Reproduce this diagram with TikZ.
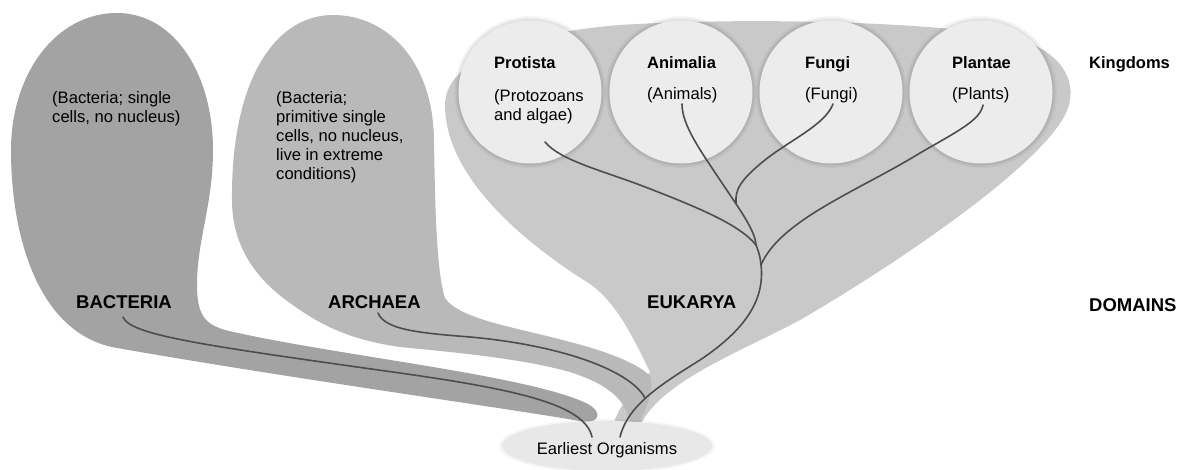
\documentclass[tikz,border=0pt]{standalone}
\usepackage{fontspec}
\setmainfont{Liberation Sans}
\usetikzlibrary{shapes.geometric}
\definecolor{bacgray}{HTML}{A3A3A3}
\definecolor{arcgray}{HTML}{B9B9B9}
\definecolor{eukgray}{HTML}{C9C9C9}
\definecolor{circgray}{HTML}{ECECEC}
\definecolor{ovalgray}{HTML}{E8E8E8}
\definecolor{linegray}{HTML}{4D4D4D}
\tikzset{
  branch/.style={draw=linegray, line width=1.6pt, line cap=round},
  kname/.style={font=\bfseries\fontsize{16.5}{19}\selectfont, anchor=base west, inner sep=0pt},
  desc/.style={font=\fontsize{16.6}{19}\selectfont, anchor=base west, inner sep=0pt, align=left},
  dname/.style={font=\bfseries\fontsize{18.5}{22}\selectfont, anchor=base west, inner sep=0pt},
  kcircle/.style={circle, fill=circgray, minimum size=143pt, inner sep=0pt},
}
\begin{document}
\begin{tikzpicture}[x=1pt,y=-1pt]
\useasboundingbox (0,0) rectangle (1182,469);
% Eukarya domain shape
\fill[eukgray] (650,372) .. controls (632,335) and (615,300) .. (587,282)
  .. controls (520,240) and (445,175) .. (445,105)
  .. controls (445,60) and (520,33) .. (620,25)
  .. controls (750,17) and (920,22) .. (1000,35)
  .. controls (1060,45) and (1078,80) .. (1068,108)
  .. controls (1050,160) and (900,262) .. (800,320)
  .. controls (740,352) and (665,380) .. (642,422)
  -- (614,422) .. controls (622,400) and (638,385) .. (650,372) -- cycle;
% Archaea domain shape
\fill[arcgray] (333,15) .. controls (388,15) and (433,62) .. (434,140)
  .. controls (435,200) and (436,270) .. (445,298)
  .. controls (460,320) and (520,328) .. (570,342)
  .. controls (610,352) and (640,365) .. (650,376)
  .. controls (655,390) and (645,410) .. (640,422)
  -- (630,422) .. controls (625,400) and (610,385) .. (570,372)
  .. controls (520,358) and (450,352) .. (400,347)
  .. controls (350,340) and (320,325) .. (290,303)
  .. controls (250,275) and (232,240) .. (232,200)
  .. controls (231,80) and (275,15) .. (333,15) -- cycle;
% Bacteria domain shape
\fill[bacgray] (117,13) .. controls (175,13) and (213,75) .. (213,150)
  .. controls (213,205) and (197,240) .. (197,285)
  .. controls (197,315) and (205,324) .. (225,330)
  .. controls (330,355) and (530,375) .. (588,404)
  .. controls (602,412) and (600,422) .. (585,422)
  .. controls (520,410) and (300,380) .. (117,348)
  .. controls (40,335) and (11,240) .. (11,150)
  .. controls (11,75) and (55,13) .. (117,13) -- cycle;
% kingdom circles with soft shadow
\foreach \cx in {530,681,831,981}{
  \foreach \r/\o in {76/0.03,74.5/0.04,73/0.05}{
    \fill[black,opacity=\o] (\cx,92) circle (\r);
  }
}
\node[kcircle] (protista) at (530,92) {};
\node[kcircle] (animalia) at (681,92) {};
\node[kcircle] (fungi) at (831,92) {};
\node[kcircle] (plantae) at (981,92) {};
% earliest organisms
\fill[black,opacity=0.04] (607,446) ellipse (108 and 27);
\node[ellipse, fill=ovalgray, minimum width=210pt, minimum height=50pt, inner sep=0pt] (earliest) at (607,446) {};
\node[font=\fontsize{16.6}{19}\selectfont, anchor=base, inner sep=0pt] (earliesttext) at (607,454) {Earliest Organisms};
% tree coordinates
\coordinate (bstart) at (123,317);
\coordinate (bend) at (592,437);
\coordinate (astart) at (378,313);
\coordinate (ajoin) at (645,398);
\coordinate (eroot) at (620,437);
\coordinate (pjoin) at (761,265);
\coordinate (kjoin) at (756,245);
\coordinate (fjoin) at (736,203);
\coordinate (pstart) at (545,142);
\coordinate (anstart) at (682,104);
\coordinate (fstart) at (833,104);
\coordinate (plstart) at (983,105);
% branches
\draw[branch] (bstart) .. controls (130,335) and (200,345) .. (400,373)
  .. controls (520,390) and (585,405) .. (bend);
\draw[branch] (astart) .. controls (385,330) and (420,333) .. (470,337)
  .. controls (560,345) and (630,370) .. (ajoin);
\draw[branch] (eroot) .. controls (628,405) and (660,385) .. (700,360)
  .. controls (745,330) and (765,300) .. (pjoin)
  .. controls (760,255) and (758,250) .. (kjoin);
\draw[branch] (pstart) .. controls (560,160) and (600,170) .. (640,185)
  .. controls (700,208) and (740,225) .. (kjoin);
\draw[branch] (anstart) .. controls (682,125) and (700,150) .. (720,180)
  .. controls (740,210) and (755,230) .. (kjoin);
\draw[branch] (fstart) .. controls (825,125) and (790,140) .. (765,160)
  .. controls (740,180) and (735,190) .. (fjoin);
\draw[branch] (plstart) .. controls (980,120) and (960,130) .. (920,153)
  .. controls (860,190) and (780,220) .. (pjoin);
% texts (base anchor = baseline of last line)
\node[desc] (bacdesc) at (52,122) {(Bacteria; single\\cells, no nucleus)};
\node[desc] (arcdesc) at (276,179) {(Bacteria;\\primitive single\\cells, no nucleus,\\live in extreme\\conditions)};
\node[dname] (bacteria) at (76,308) {BACTERIA};
\node[dname] (archaea) at (328,308) {ARCHAEA};
\node[dname] (eukarya) at (647,308) {EUKARYA};
\node[dname] (domains) at (1089,311) {DOMAINS};
\node[kname] (kingdoms) at (1089,68) {Kingdoms};
\node[kname] (protistaname) at (494,68) {Protista};
\node[desc] (protistadesc) at (494,120) {(Protozoans\\and algae)};
\node[kname] (animalianame) at (647,68) {Animalia};
\node[desc] (animaliadesc) at (647,99) {(Animals)};
\node[kname] (funginame) at (805,68) {Fungi};
\node[desc] (fungidesc) at (805,99) {(Fungi)};
\node[kname] (plantaename) at (952,68) {Plantae};
\node[desc] (plantaedesc) at (952,99) {(Plants)};
\end{tikzpicture}
\end{document}
